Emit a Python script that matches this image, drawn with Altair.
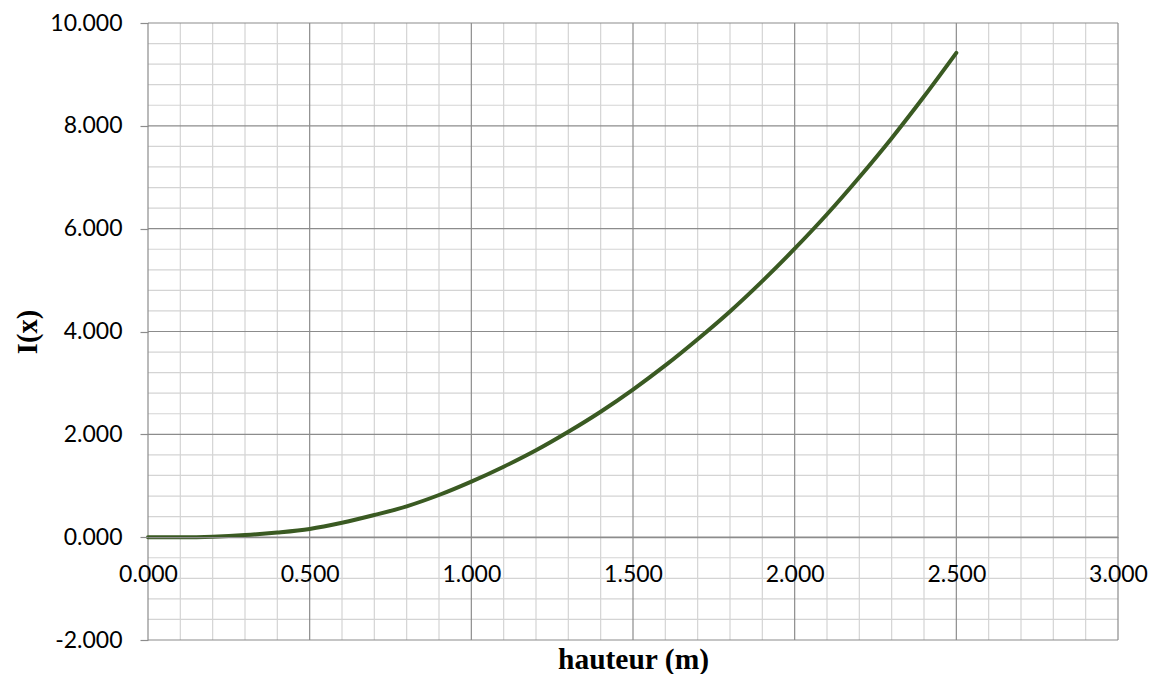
import altair as alt
import pandas as pd

# Curve data
x_vals = [0.0, 0.1, 0.2, 0.3, 0.4, 0.5, 0.6, 0.7, 0.8, 0.9, 1.0, 1.1, 1.2,
          1.3, 1.4, 1.5, 1.6, 1.7, 1.8, 1.9, 2.0, 2.1, 2.2, 2.3, 2.4, 2.5]
i_vals = [0.00, 0.00, 0.01, 0.04, 0.09, 0.16, 0.28, 0.43, 0.60, 0.82, 1.08, 1.37, 1.69,
          2.05, 2.44, 2.87, 3.34, 3.85, 4.39, 4.98, 5.61, 6.28, 7.00, 7.76, 8.57, 9.42]

# Axis tick values
x_major = [0.0, 0.5, 1.0, 1.5, 2.0, 2.5, 3.0]
x_minor = [0.1, 0.2, 0.3, 0.4, 0.6, 0.7, 0.8, 0.9, 1.1, 1.2, 1.3, 1.4, 1.6, 1.7, 1.8, 1.9,
           2.1, 2.2, 2.3, 2.4, 2.6, 2.7, 2.8, 2.9]
y_major = [-2, 0, 2, 4, 6, 8, 10]
y_minor = [-1.6, -1.2, -0.8, -0.4, 0.4, 0.8, 1.2, 1.6, 2.4, 2.8, 3.2, 3.6, 4.4, 4.8, 5.2, 5.6,
           6.4, 6.8, 7.2, 7.6, 8.4, 8.8, 9.2, 9.6]

X_MIN, X_MAX = 0.0, 3.0
Y_MIN, Y_MAX = -2.0, 10.0

W, H = 970, 617

curve = pd.DataFrame({"x": x_vals, "y": i_vals})

x_scale = alt.Scale(domain=[X_MIN, X_MAX], nice=False, zero=False)
y_scale = alt.Scale(domain=[Y_MIN, Y_MAX], nice=False, zero=False)

label_expr = "replace(format(datum.value, '.3f'), '\u2212', '-')"

x_axis = alt.Axis(
    values=x_major, labelExpr=label_expr, title="hauteur (m)",
    offset=-H * 2 / 12, grid=False, ticks=False, tickSize=0,
    domain=True, domainColor="#8c8c8c", domainWidth=1.2,
    labelFont="Lato", labelFontSize=23, labelColor="#000000",
    labelPadding=26, labelAngle=0, labelFlush=False, labelOverlap=False,
    titleFont="Liberation Serif", titleFontSize=29.5, titleFontWeight="bold",
    titleColor="#000000", titleX=W / 2, titleY=131, titleBaseline="alphabetic",
    titleAlign="center", zindex=1,
)
y_axis = alt.Axis(
    values=y_major, labelExpr=label_expr, title="I(x)",
    grid=False, ticks=True, tickSize=8, tickColor="#8c8c8c", tickWidth=1.2,
    domain=False,
    labelFont="Lato", labelFontSize=23, labelColor="#000000",
    labelPadding=18, labelFlush=False, labelOverlap=False,
    titleFont="Liberation Serif", titleFontSize=28.5, titleFontWeight="bold",
    titleColor="#000000", titleX=-120.5, titleY=H / 2, titleBaseline="middle",
    titleAlign="center", titleAngle=-90, zindex=1,
)


def vrules(vals, color, width):
    df = pd.DataFrame({"v": vals, "lo": [Y_MIN] * len(vals), "hi": [Y_MAX] * len(vals)})
    return alt.Chart(df).mark_rule(color=color, strokeWidth=width).encode(
        x=alt.X("v:Q", scale=x_scale, axis=x_axis),
        y=alt.Y("lo:Q", scale=y_scale, axis=y_axis),
        y2="hi:Q",
    )


def hrules(vals, color, width):
    df = pd.DataFrame({"v": vals, "lo": [X_MIN] * len(vals), "hi": [X_MAX] * len(vals)})
    return alt.Chart(df).mark_rule(color=color, strokeWidth=width).encode(
        y=alt.Y("v:Q", scale=y_scale, axis=y_axis),
        x=alt.X("lo:Q", scale=x_scale, axis=x_axis),
        x2="hi:Q",
    )


minor_col = "#d4d4d4"
major_col = "#8c8c8c"

line = alt.Chart(curve).mark_line(
    color="#3a5a22", strokeWidth=4, interpolate="monotone", strokeCap="round"
).encode(
    x=alt.X("x:Q", scale=x_scale, axis=x_axis),
    y=alt.Y("y:Q", scale=y_scale, axis=y_axis),
)

chart = alt.layer(
    vrules(x_minor, minor_col, 1.2),
    hrules(y_minor, minor_col, 1.2),
    vrules(x_major, major_col, 1.2),
    hrules(y_major, major_col, 1.2),
    line,
).properties(
    width=W, height=H,
    autosize=alt.AutoSizeParams(type="none"),
    padding={"left": 140, "top": 15, "right": 32, "bottom": 34},
    background="white",
).configure_view(stroke=None)

chart.save("out.html", embed_options={"renderer": "svg", "actions": False})
